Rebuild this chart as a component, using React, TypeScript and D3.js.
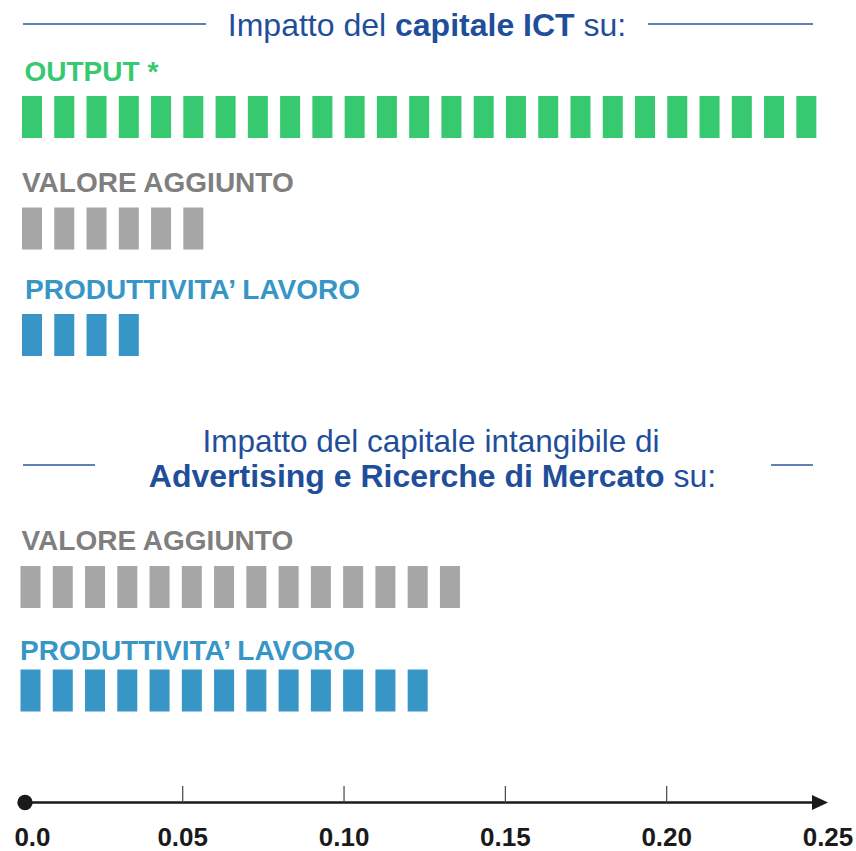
import React from 'react';
import * as d3 from 'd3';

// values, one block = 0.01
const ictLabels = ['OUTPUT *', 'VALORE AGGIUNTO', 'PRODUTTIVITA\u2019 LAVORO'];
const ictValues = [0.25, 0.06, 0.04];
const advLabels = ['VALORE AGGIUNTO', 'PRODUTTIVITA\u2019 LAVORO'];
const advValues = [0.14, 0.13];
const tickValues = [0, 0.05, 0.1, 0.15, 0.2, 0.25];
const tickLabels = ['0.0', '0.05', '0.10', '0.15', '0.20', '0.25'];
const blockSize = 0.01;

const width = 856;
const height = 851;
const font = '"Liberation Sans", Arial, sans-serif';
const titleBlue = '#1f4e9b';
const lineBlue = '#2a55a1';

const barColor = (label: string) =>
  label.startsWith('OUTPUT') ? '#36c96f' : label.startsWith('VALORE') ? '#a6a6a6' : '#3796c6';
const labelColor = (label: string) =>
  label.startsWith('OUTPUT') ? '#36c96f' : label.startsWith('VALORE') ? '#7f7f7f' : '#3796c6';

// layout: bar tops and label baselines per row
const ictRowTop = [96, 207.5, 314];
const ictLabelY = [81, 191.5, 298.5];
const ictLabelX = [24.5, 22, 25];
const advRowTop = [566, 669.5];
const advLabelY = [550, 659.5];
const advLabelX = [21.5, 20];
const advShift = -1.5;
const barH = 42;
const axisY = 802.5;

export default function App() {
  const x = d3.scaleLinear().domain([0, 0.25]).range([21.4, 828]);
  const blockStep = x(blockSize) - x(0);
  const blockW = blockStep * 0.62;

  const row = (label: string, value: number, top: number, ly: number, lx: number, dx: number, key: string) => {
    const n = Math.round(value / blockSize);
    return (
      <g key={key}>
        <text x={lx} y={ly} fill={labelColor(label)} fontFamily={font} fontWeight="bold" fontSize={28}>
          {label}
        </text>
        {d3.range(n).map((i) => (
          <rect key={i} x={x(i * blockSize) + 0.6 + dx} y={top} width={blockW} height={barH} fill={barColor(label)} />
        ))}
      </g>
    );
  };

  return (
    <svg width={width} height={height} style={{ position: 'absolute', left: 0, top: 0 }}>
      <rect width={width} height={height} fill="#fff" />

      {/* title 1 */}
      <line x1={23} x2={206} y1={24} y2={24} stroke={lineBlue} strokeWidth={1.5} />
      <line x1={648} x2={813} y1={24} y2={24} stroke={lineBlue} strokeWidth={1.5} />
      <text x={427} y={36} textAnchor="middle" fill={titleBlue} fontFamily={font} fontSize={32}>
        Impatto del <tspan fontWeight="bold">capitale ICT</tspan> su:
      </text>

      {ictLabels.map((l, i) => row(l, ictValues[i], ictRowTop[i], ictLabelY[i], ictLabelX[i], 0, 'ict' + i))}

      {/* title 2 */}
      <line x1={23} x2={95} y1={465} y2={465} stroke={lineBlue} strokeWidth={1.5} />
      <line x1={771} x2={813} y1={465} y2={465} stroke={lineBlue} strokeWidth={1.5} />
      <text x={431} y={451.5} textAnchor="middle" fill={titleBlue} fontFamily={font} fontSize={31.5}>
        Impatto del capitale intangibile di
      </text>
      <text x={432.5} y={486.5} textAnchor="middle" fill={titleBlue} fontFamily={font} fontSize={32}>
        <tspan fontWeight="bold">Advertising e Ricerche di Mercato</tspan> su:
      </text>

      {advLabels.map((l, i) =>
        row(l, advValues[i], advRowTop[i], advLabelY[i], advLabelX[i], advShift, 'adv' + i)
      )}

      {/* axis */}
      <g>
        <line x1={x(0) + 3.5} x2={x(0.25) - 14} y1={axisY} y2={axisY} stroke="#1a1a1a" strokeWidth={2.6} />
        <path
          d={`M${x(0.25)},${axisY} L${x(0.25) - 16},${axisY - 7.5} L${x(0.25) - 16},${axisY + 7.5} Z`}
          fill="#1a1a1a"
        />
        <circle cx={x(0) + 3.6} cy={axisY} r={7.7} fill="#1a1a1a" />
        {tickValues.slice(1, -1).map((v) => (
          <line key={v} x1={x(v)} x2={x(v)} y1={axisY - 16.5} y2={axisY} stroke="#444" strokeWidth={1.2} />
        ))}
        {tickValues.map((v, i) => (
          <text
            key={v}
            x={i === 0 ? x(v) - 7 : x(v)}
            y={846}
            textAnchor={i === 0 ? 'start' : 'middle'}
            fill="#1a1a1a"
            fontFamily={font}
            fontWeight="bold"
            fontSize={26}
          >
            {tickLabels[i]}
          </text>
        ))}
      </g>
    </svg>
  );
}
